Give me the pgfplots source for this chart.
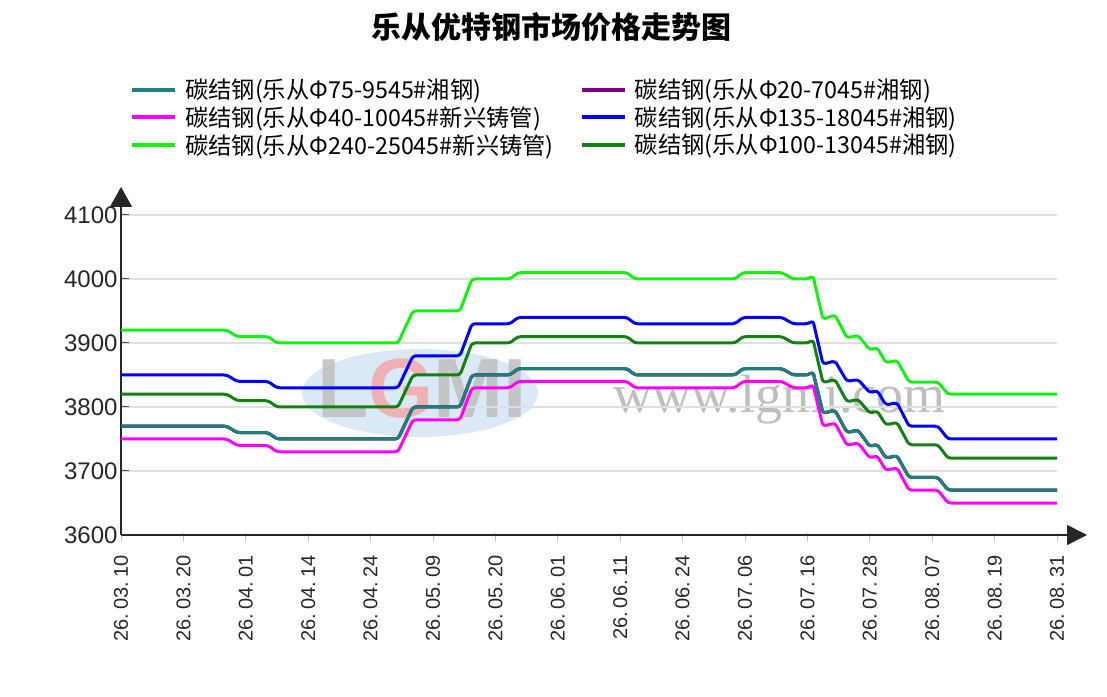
\documentclass[border=0pt]{standalone}
\usepackage{fontspec}
\setmainfont{Liberation Sans}
\newfontfamily\cjk{Noto Sans CJK SC}
\newfontfamily\wmserif{Liberation Serif}
\usepackage{pgfplots}
\pgfplotsset{compat=1.18}
\usepackage{pgfplotstable}
\usetikzlibrary{arrows.meta}

\definecolor{tealc}{RGB}{31,127,127}
\definecolor{purp}{RGB}{128,0,128}
\definecolor{magc}{RGB}{255,0,255}
\definecolor{bluec}{RGB}{0,0,255}
\definecolor{limec}{RGB}{20,240,20}
\definecolor{dkgc}{RGB}{20,128,20}
\definecolor{wmgrey}{RGB}{190,190,190}
\definecolor{wmpink}{RGB}{242,170,170}
\definecolor{wmblue}{RGB}{210,226,242}

\newcommand\dt[3]{#1.\kern4pt#2.\kern4pt#3}

\pgfplotstableread{
x    teal  mag   blue  green dk
0    3770  3750  3850  3920  3820
106  3770  3750  3850  3920  3820
116  3760  3740  3840  3910  3810
147  3760  3740  3840  3910  3810
156  3750  3730  3830  3900  3800
277  3750  3730  3830  3900  3800
292  3800  3780  3880  3950  3850
339  3800  3780  3880  3950  3850
351  3850  3830  3930  4000  3900
389  3850  3830  3930  4000  3900
397  3860  3840  3940  4010  3910
506  3860  3840  3940  4010  3910
514  3850  3830  3930  4000  3900
614  3850  3830  3930  4000  3900
622  3860  3840  3940  4010  3910
661  3860  3840  3940  4010  3910
672  3850  3830  3930  4000  3900
687  3850  3830  3930  4000  3900
692  3855  3835  3935  4005  3905
702  3790  3770  3867  3937  3838
714  3795  3775  3872  3944  3843
726  3760  3740  3840  3908  3808
737  3764  3744  3843  3912  3812
749  3738  3720  3822  3889  3790
756  3742  3724  3826  3893  3794
765  3720  3701  3803  3869  3772
776  3724  3705  3807  3873  3776
788  3690  3670  3770  3839  3741
817  3690  3670  3770  3839  3741
827  3670  3650  3750  3820  3720
936  3670  3650  3750  3820  3720
}\data

\begin{document}
\begin{tikzpicture}[x=1pt,y=1pt]
\useasboundingbox (0,0) rectangle (1107,696);
% title
\node[font=\cjk\bfseries\fontsize{30}{36}\selectfont] at (551,669) {乐从优特钢市场价格走势图};
% watermark
\fill[wmblue, opacity=0.8] (420,303) ellipse [x radius=118, y radius=44];
\node[font=\bfseries\fontsize{84}{90}\selectfont, opacity=0.85] at (422,307)
  {\textcolor{wmgrey}{L}\textcolor{wmpink}{G}\textcolor{wmgrey}{MI}};
\node[font=\wmserif\fontsize{54}{60}\selectfont, text=wmgrey, anchor=base west, inner sep=0pt] at (613,283) {www.lgmi.com};

\begin{axis}[
  at={(121pt,161pt)}, anchor=south west,
  width=936pt, height=320pt, scale only axis,
  xmin=0, xmax=936, ymin=3600, ymax=4100,
  axis lines=left,
  x axis line style={line width=1.6pt, black!85, -{Triangle[length=20pt,width=20pt]}, shorten >=-30pt},
  y axis line style={line width=1.6pt, black!85, -{Triangle[length=20pt,width=22pt]}, shorten >=-28pt},
  tick align=inside,
  major tick length=8pt,
  ytick={3600,3700,3800,3900,4000,4100},
  ytick style={line width=1pt, black!70},
  xtick={0,62.4,124.8,187.2,249.6,312,374.4,436.8,499.2,561.6,624,686.4,748.8,811.2,873.6,936},
  xtick style={line width=1pt, gray!50, yshift=-6pt},
  xticklabels={\dt{26}{03}{10},\dt{26}{03}{20},\dt{26}{04}{01},\dt{26}{04}{14},\dt{26}{04}{24},\dt{26}{05}{09},\dt{26}{05}{20},\dt{26}{06}{01},\dt{26}{06}{11},\dt{26}{06}{24},\dt{26}{07}{06},\dt{26}{07}{16},\dt{26}{07}{28},\dt{26}{08}{07},\dt{26}{08}{19},\dt{26}{08}{31}},
  xticklabel style={rotate=90, anchor=east, font=\fontsize{20}{24}\selectfont, text=black!85},
  xticklabel shift=17pt,
  yticklabel style={font=\fontsize{24}{28}\selectfont, text=black!85},
  /pgf/number format/assume math mode=true,
  /pgf/number format/1000 sep={},
  ymajorgrids,
  grid style={line width=1.3pt, color=gray!25},
  legend columns=2,
  legend cell align=left,
  legend style={at={(0.0096,1.431)}, anchor=north west, draw=none, fill=none, inner sep=0pt,
    font=\cjk\fontsize{23.3}{27}\selectfont, row sep=2.4pt,
    /tikz/every odd column/.append style={column sep=6pt},
    /tikz/every even column/.append style={column sep=24pt}},
  legend image code/.code={\draw[#1, line width=4pt] (0pt,0pt) -- (43pt,0pt);},
  every axis plot/.append style={line width=3pt, line join=round, rounded corners=3pt},
]
\addplot[tealc] table[x=x,y=teal]{\data};
\addlegendentry{碳结钢(乐从Φ75-9545\#湘钢)}
\addplot[purp] table[x=x,y=teal]{\data};
\addlegendentry{碳结钢(乐从Φ20-7045\#湘钢)}
\addplot[magc] table[x=x,y=mag]{\data};
\addlegendentry{碳结钢(乐从Φ40-10045\#新兴铸管)}
\addplot[bluec] table[x=x,y=blue]{\data};
\addlegendentry{碳结钢(乐从Φ135-18045\#湘钢)}
\addplot[limec] table[x=x,y=green]{\data};
\addlegendentry{碳结钢(乐从Φ240-25045\#新兴铸管)}
\addplot[dkgc] table[x=x,y=dk]{\data};
\addlegendentry{碳结钢(乐从Φ100-13045\#湘钢)}
\addplot[tealc, forget plot] table[x=x,y=teal]{\data};
\end{axis}
\end{tikzpicture}
\end{document}
